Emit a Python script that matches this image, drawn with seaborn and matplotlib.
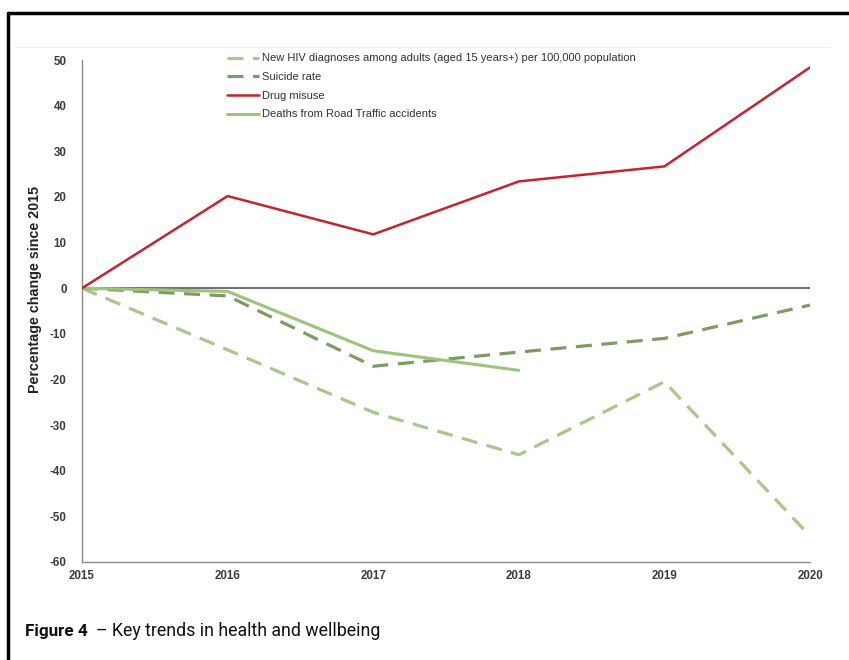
import pandas as pd
import matplotlib
matplotlib.use("Agg")
import matplotlib.pyplot as plt
import seaborn as sns
from matplotlib.lines import Line2D

# Values
years = [2015, 2016, 2017, 2018, 2019, 2020]
hiv = [0, -13.5, -27.2, -36.5, -20.5, -54.3]
suicide = [0, -1.7, -17.1, -14.0, -11.0, -3.7]
drug_misuse = [0, 20.2, 11.8, 23.4, 26.7, 48.4]
road_years = [2015, 2016, 2017, 2018]
road_deaths = [0, -0.7, -13.7, -18.0]

series_names = [
    "New HIV diagnoses among adults (aged 15 years+) per 100,000 population",
    "Suicide rate",
    "Drug misuse",
    "Deaths from Road Traffic accidents",
]
y_ticks = list(range(-60, 51, 10))

sns.set_style("white")
plt.rcParams['font.family'] = ['Liberation Sans', 'DejaVu Sans']
plt.rcParams['axes.unicode_minus'] = False

fig = plt.figure(figsize=(8.49, 6.6), dpi=100)
ax = fig.add_axes([0.0966, 0.1485, 0.8575, 0.7605])

hiv_color = "#abc58e"
suicide_color = "#7d9b63"
drug_color = "#c4232f"
road_color = "#9ec47c"

ax.axhline(0, color="#444444", lw=1.1, zorder=1)

sns.lineplot(x=years, y=hiv, ax=ax, color=hiv_color, lw=2.3,
             linestyle=(0, (5, 3)), zorder=3)
sns.lineplot(x=years, y=suicide, ax=ax, color=suicide_color, lw=2.3,
             linestyle=(0, (5, 3)), zorder=3)
sns.lineplot(x=years, y=drug_misuse, ax=ax, color=drug_color, lw=1.8, zorder=4)
sns.lineplot(x=road_years, y=road_deaths, ax=ax, color=road_color, lw=2.2, zorder=3)

ax.set_xlim(2015, 2020)
ax.set_ylim(-60, 50)
ax.set_xticks(years)
ax.set_xticklabels([str(y) for y in years])
ax.set_yticks(y_ticks)

for side in ["top", "right"]:
    ax.spines[side].set_visible(False)
for side in ["left", "bottom"]:
    ax.spines[side].set_color("#8a8a8a")
    ax.spines[side].set_linewidth(1.0)

ax.tick_params(axis="both", labelsize=8.3, colors="#333333", length=3,
               width=0.8, direction="out")
ax.tick_params(axis="x", length=0, pad=6)
ax.tick_params(axis="y", pad=8)
for lbl in ax.get_xticklabels() + ax.get_yticklabels():
    lbl.set_fontweight("bold")
    lbl.set_color("#3a3a3a")

ax.set_ylabel("Percentage change since 2015", fontsize=10.3, fontweight="bold",
              color="#222222")
ax.yaxis.set_label_coords(-0.055, 0.543)

handles = [
    Line2D([], [], color=hiv_color, lw=2.3, linestyle=(0, (5, 3))),
    Line2D([], [], color=suicide_color, lw=2.3, linestyle=(0, (5, 3))),
    Line2D([], [], color=drug_color, lw=1.8),
    Line2D([], [], color=road_color, lw=2.2),
]
leg = ax.legend(handles, series_names, loc="upper left",
                bbox_to_anchor=(0.185, 1.033), frameon=False, fontsize=8,
                handlelength=2.9, handletextpad=0.3, labelspacing=0.78)
for t in leg.get_texts():
    t.set_color("#333333")

# frame lines of the cropped figure box
fig.add_artist(Line2D([0.01, 1.0], [0.981, 0.981], color="black", lw=2.5,
                      transform=fig.transFigure))
fig.add_artist(Line2D([0.01, 0.01], [0.0, 0.981], color="black", lw=2.5,
                      transform=fig.transFigure))
fig.add_artist(Line2D([0.018, 0.978], [0.929, 0.929], color="#f0f0f0", lw=0.8,
                      transform=fig.transFigure))

fig.text(0.030, 0.036, "Figure 4", fontsize=12.3, fontweight="bold",
         family=["Roboto", "DejaVu Sans"], color="#111111")
fig.text(0.113, 0.036, "\u2013 Key trends in health and wellbeing", fontsize=12.8,
         family=["Roboto", "DejaVu Sans"], color="#111111")

fig.savefig("out.png", dpi=100, facecolor="white")
